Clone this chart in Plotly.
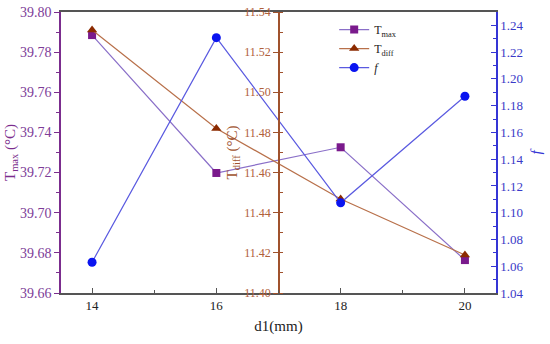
import plotly.graph_objects as go

d1 = [14, 16, 18, 20]
t_max = [39.7885, 39.7198, 39.7326, 39.6764]
t_diff = [11.531, 11.482, 11.4468, 11.4189]
f_val = [1.063, 1.2308, 1.1074, 1.187]

C_MAX = "#7B2D8E"
C_DIFF = "#A0522D"
C_F = "#3535D5"
FONT = "Times New Roman, Liberation Serif, serif"

fig = go.Figure()
fig.add_trace(go.Scatter(
    x=d1, y=t_max, name="T<sub>max</sub>", yaxis="y",
    mode="lines+markers",
    line=dict(color="#8A6FC8", width=1.2),
    marker=dict(symbol="square", size=8, color="#7A1A8C"),
))
fig.add_trace(go.Scatter(
    x=d1, y=t_diff, name="T<sub>diff</sub>", yaxis="y2",
    mode="lines+markers",
    line=dict(color="#B8704A", width=1.2),
    marker=dict(symbol="triangle-up", size=9, color="#8B2A00"),
))
fig.add_trace(go.Scatter(
    x=d1, y=f_val, name="<i>f</i>", yaxis="y3",
    mode="lines+markers",
    line=dict(color="#5A5AE0", width=1.2),
    marker=dict(symbol="circle", size=9, color="#0A14F0"),
))

fig.update_layout(
    width=550, height=344,
    margin=dict(l=61, r=54, t=12, b=51, autoexpand=False),
    paper_bgcolor="white", plot_bgcolor="white",
    font=dict(family=FONT, size=13, color="#222"),
    showlegend=True,
    legend=dict(x=0.628, y=0.989, xanchor="left", yanchor="top",
                bgcolor="rgba(0,0,0,0)", font=dict(size=12, family=FONT, color="#222"),
                tracegroupgap=0, itemwidth=30),
    xaxis=dict(
        range=[13.5, 20.5], tickvals=[14, 16, 18, 20], automargin=False,
        showgrid=False, zeroline=False,
        showline=True, linecolor="#555", linewidth=1.5, mirror=True,
        ticks="inside", ticklen=5, tickcolor="#555",
        minor=dict(tickvals=[15, 17, 19], ticks="inside", ticklen=3, tickcolor="#555"),
        tickfont=dict(size=13, family=FONT, color="#222"),
        title=dict(text="d1(mm)", font=dict(size=15, family=FONT, color="#222"), standoff=8),
    ),
    yaxis=dict(
        range=[39.66, 39.80], dtick=0.02, tickformat=".2f", automargin=False,
        ticklabeloverflow="allow",
        showgrid=False, zeroline=False,
        showline=True, linecolor=C_MAX, linewidth=1.5,
        ticks="outside", ticklen=5, tickcolor=C_MAX,
        minor=dict(dtick=0.01, ticks="outside", ticklen=3, tickcolor=C_MAX),
        tickfont=dict(size=14, family=FONT, color="#7D3C98"),
        title=dict(text="T<sub>max</sub> (°C)", font=dict(size=15, family=FONT, color=C_MAX), standoff=0),
    ),
    yaxis2=dict(
        range=[11.40, 11.54], dtick=0.02, tickformat=".2f", automargin=False,
        ticklabeloverflow="allow",
        overlaying="y", anchor="free", position=0.501, side="left",
        showgrid=False, zeroline=False,
        showline=True, linecolor=C_DIFF, linewidth=1.5,
        ticks="outside", ticklen=5, tickcolor=C_DIFF,
        minor=dict(dtick=0.01, ticks="inside", ticklen=3, tickcolor=C_DIFF),
        tickfont=dict(size=12, family=FONT, color="#B0603A"),
        title=dict(text="T<sub>diff</sub> (°C)", font=dict(size=15, family=FONT, color=C_DIFF), standoff=2),
    ),
    yaxis3=dict(
        range=[1.04, 1.25], tickvals=[1.04, 1.06, 1.08, 1.10, 1.12, 1.14, 1.16, 1.18, 1.20, 1.22, 1.24],
        tickformat=".2f", automargin=False,
        ticklabeloverflow="allow",
        overlaying="y", anchor="x", side="right",
        showgrid=False, zeroline=False,
        showline=True, linecolor=C_F, linewidth=1.5,
        ticks="inside", ticklen=5, tickcolor=C_F,
        minor=dict(dtick=0.01, tick0=1.04, ticks="inside", ticklen=3, tickcolor=C_F),
        tickfont=dict(size=13, family=FONT, color="#3A3AC8"),
        title=dict(text="<i>f</i>", font=dict(size=15, family=FONT, color=C_F), standoff=8),
    ),
)

fig.write_html("out.html", config={"displayModeBar": False},
               post_script="document.body.style.margin='0px';")
